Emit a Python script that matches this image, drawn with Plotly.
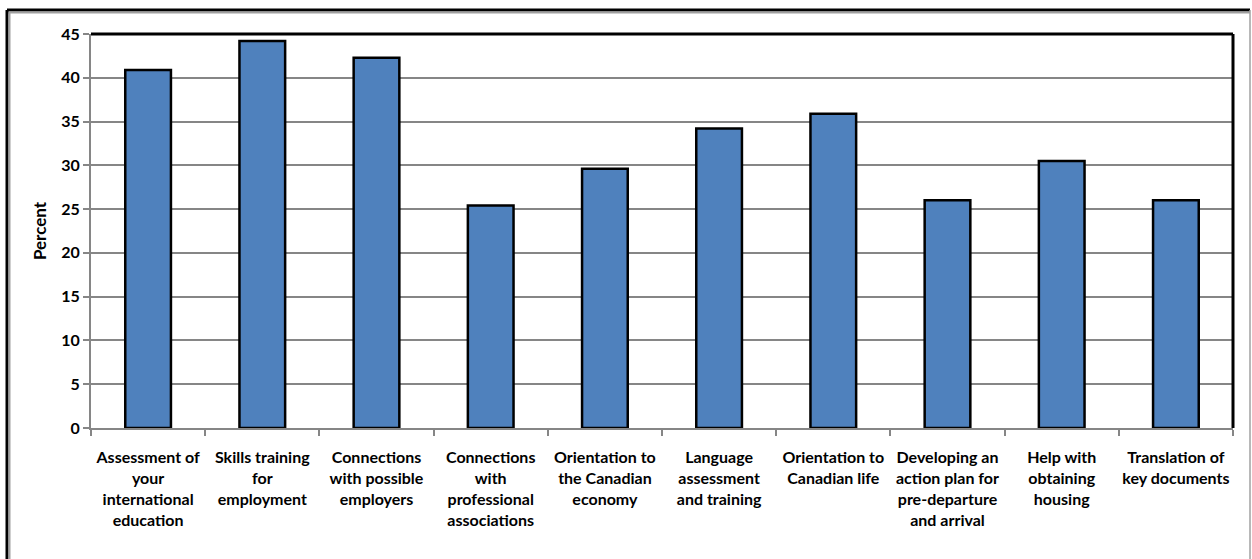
import plotly.graph_objects as go

categories = [
    "Assessment of<br>your<br>international<br>education",
    "Skills training<br>for<br>employment",
    "Connections<br>with possible<br>employers",
    "Connections<br>with<br>professional<br>associations",
    "Orientation to<br>the Canadian<br>economy",
    "Language<br>assessment<br>and training",
    "Orientation to<br>Canadian life",
    "Developing an<br>action plan for<br>pre-departure<br>and arrival",
    "Help with<br>obtaining<br>housing",
    "Translation of<br>key documents",
]
percent = [40.9, 44.2, 42.3, 25.4, 29.6, 34.2, 35.9, 26.0, 30.5, 26.0]
y_ticks = [0, 5, 10, 15, 20, 25, 30, 35, 40, 45]

W, H = 1252, 559
ML, MR, MT, MB = 91, 19, 34, 131
PW, PH = W - ML - MR, H - MT - MB

def px_x(p):
    return (p - ML) / PW

def px_y(p):
    return (H - MB - p) / PH

FONT = "Lato"

fig = go.Figure(
    go.Bar(
        x=categories,
        y=percent,
        width=0.4,
        marker=dict(color="#4F81BD", line=dict(color="black", width=2.5)),
    )
)

fig.update_layout(
    width=W,
    height=H,
    margin=dict(l=ML, r=MR, t=MT, b=MB),
    paper_bgcolor="white",
    plot_bgcolor="white",
    showlegend=False,
    font=dict(family=FONT, color="black"),
    xaxis=dict(
        type="category",
        categoryorder="array",
        categoryarray=categories,
        range=[-0.5, len(categories) - 0.5],
        tickfont=dict(family=FONT, size=16, color="black", weight="bold"),
        showgrid=False,
        showline=True,
        linecolor="#868686",
        linewidth=2,
        ticks="outside",
        tickson="boundaries",
        ticklen=6,
        tickwidth=2,
        tickcolor="#868686",
        tickangle=0,
        ticklabelstandoff=14,
        zeroline=False,
    ),
    yaxis=dict(
        range=[0, 45],
        tickmode="array",
        tickvals=y_ticks,
        ticktext=[str(v) for v in y_ticks],
        tickfont=dict(family=FONT, size=16, color="black", weight="bold"),
        showgrid=True,
        gridcolor="#868686",
        gridwidth=2,
        showline=True,
        linecolor="#868686",
        linewidth=2,
        ticks="outside",
        ticklen=6,
        tickwidth=2,
        tickcolor="#868686",
        zeroline=False,
        title=dict(text="Percent", font=dict(family=FONT, size=17, color="black", weight="bold"), standoff=10),
    ),
)

shapes = [
    # plot-area border, top and right edges
    dict(type="line", xref="paper", yref="paper", x0=0, x1=1, y0=1, y1=1,
         line=dict(color="black", width=3)),
    dict(type="line", xref="paper", yref="paper", x0=1, x1=1, y0=0, y1=1,
         line=dict(color="black", width=3)),
    # outer chart frame
    dict(type="line", xref="paper", yref="paper", x0=px_x(7), x1=px_x(1250), y0=px_y(10), y1=px_y(10),
         line=dict(color="black", width=3)),
    dict(type="line", xref="paper", yref="paper", x0=px_x(7), x1=px_x(1250), y0=px_y(12.5), y1=px_y(12.5),
         line=dict(color="#A0A0A0", width=2)),
    dict(type="line", xref="paper", yref="paper", x0=px_x(7), x1=px_x(7), y0=px_y(10), y1=px_y(565),
         line=dict(color="black", width=3)),
    dict(type="line", xref="paper", yref="paper", x0=px_x(9.5), x1=px_x(9.5), y0=px_y(12), y1=px_y(565),
         line=dict(color="#A0A0A0", width=2)),
    dict(type="line", xref="paper", yref="paper", x0=px_x(1250), x1=px_x(1250), y0=px_y(10), y1=px_y(565),
         line=dict(color="#A0A0A0", width=1.5)),
]
fig.update_layout(shapes=shapes)

fig.write_html("out.html")
